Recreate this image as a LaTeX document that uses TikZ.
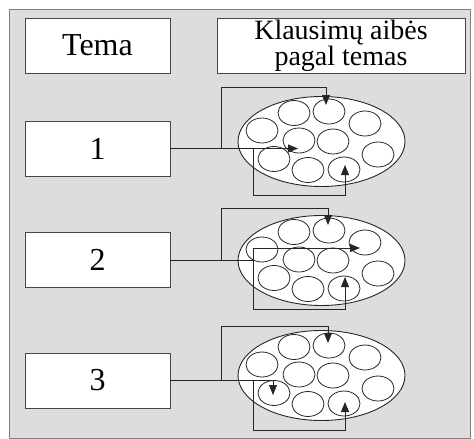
\documentclass[tikz,border=0pt]{standalone}
\usepackage{fontspec}
\setmainfont{Liberation Serif}
\usetikzlibrary{shapes.geometric,arrows.meta,positioning}
\definecolor{panel}{HTML}{DDDDDD}
\definecolor{ink}{HTML}{262626}
\tikzset{
  box/.style={draw=ink!85,fill=white,line width=0.9pt,minimum width=145pt,minimum height=55pt,inner sep=0pt,font=\fontsize{32}{32}\selectfont},
  pool/.style={ellipse,draw=ink,fill=white,line width=0.9pt,minimum width=167pt,minimum height=90pt,inner sep=0pt},
  item/.style={ellipse,draw=ink,line width=0.8pt,minimum width=32pt,minimum height=25pt,inner sep=0pt},
  link/.style={draw=ink,line width=0.9pt},
  pick/.style={link,-{Triangle[length=10pt,width=8pt]}}
}

\begin{document}
\begin{tikzpicture}[x=1pt,y=-1pt]
    \useasboundingbox (0,0) rectangle (474,439);
    \draw[gray,fill=panel] (9,9) rectangle (470,438.5);
    \node[box] (tema) at (97.5,45.5) {Tema};
    \node[box,minimum width=248pt,align=center,font=\fontsize{28}{24}\selectfont] (aibes) at (341,45.5) {Klausimų aibės\\pagal temas};
    \node[box] (t1) at (97.5,148.5) {1};
    \node[box] (t2) at (97.5,260) {2};
    \node[box] (t3) at (97.5,380.5) {3};
    \foreach \g/\cy in {1/141.5,2/260.5,3/375.5}{
        \node[pool] (p\g) at (321.5,\cy) {};
        \foreach \k/\dx/\dy in {1/-27.5/-28.5,2/7.5/-30,3/43.5/-18,4/-59.5/-11,5/-22.5/-1,6/11.5/0,7/56.5/13,8/-47.5/17.5,9/-13.5/28.5,10/22.5/28}
            \node[item] (c\g-\k) at ([shift={(\dx,\dy)}]p\g.center) {};
    }

    \coordinate (u1) at (221,87);  \coordinate (d1) at (326,105);
    \coordinate (l1) at (253,195); \coordinate (e1) at (345,165);
    \coordinate (a1) at (298,148.5);
    \draw[pick] (t1.east) -- (a1);
    \draw[pick] (u1 |- t1.east) -- (u1) -| (d1);
    \draw[pick] (l1 |- t1.east) -- (l1) -| (e1);

    \coordinate (u2) at (221,208); \coordinate (d2) at (328,225);
    \coordinate (v2) at (253,248); \coordinate (h2) at (360,248);
    \coordinate (l2) at (253,309); \coordinate (e2) at (345,277);
    \draw[link] (t2.east) -- (v2 |- t2.east);
    \draw[pick] (u2 |- t2.east) -- (u2) -| (d2);
    \draw[pick] (v2) -- (h2);
    \draw[pick] (v2) -- (l2) -| (e2);

    \coordinate (u3) at (221,326); \coordinate (d3) at (328,343);
    \coordinate (l3) at (253,430); \coordinate (e3) at (345,402);
    \coordinate (a3) at (273,395);
    \draw[pick] (t3.east) -| (a3);
    \draw[pick] (u3 |- t3.east) -- (u3) -| (d3);
    \draw[pick] (l3 |- t3.east) -- (l3) -| (e3);
\end{tikzpicture}
\end{document}
